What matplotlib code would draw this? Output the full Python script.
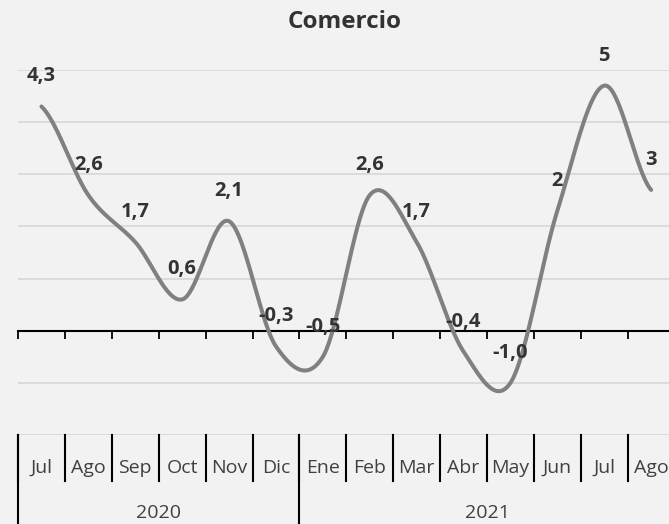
import numpy as np
import matplotlib
matplotlib.use("Agg")
import matplotlib.pyplot as plt

plt.rcParams['font.family'] = ['Open Sans', 'DejaVu Sans']

# datos
meses = ['Jul', 'Ago', 'Sep', 'Oct', 'Nov', 'Dic', 'Ene', 'Feb', 'Mar', 'Abr', 'May', 'Jun', 'Jul', 'Ago']
anios = ['2020', '2021']
meses_por_anio = [6, 8]
valores = [4.3, 2.6, 1.7, 0.6, 2.1, -0.3, -0.5, 2.6, 1.7, -0.4, -1.0, 2.3, 4.7, 2.7]
etiquetas = ['4,3', '2,6', '1,7', '0,6', '2,1', '-0,3', '-0,5', '2,6', '1,7', '-0,4', '-1,0', '2', '5', '3']

fondo = '#f2f2f2'
gris_linea = '#808080'
texto = '#333333'


def suavizar(y, n=40):
    # bezier tipo Excel (catmull-rom)
    y = np.asarray(y, dtype=float)
    p = np.concatenate([[y[0]], y, [y[-1]]])
    xs, ys = [], []
    t = np.linspace(0, 1, n)
    for i in range(len(y) - 1):
        p0, p3 = p[i + 1], p[i + 2]
        c1 = p0 + (p[i + 2] - p[i]) / 6
        c2 = p3 - (p[i + 3] - p[i + 1]) / 6
        b = (1 - t) ** 3 * p0 + 3 * (1 - t) ** 2 * t * c1 + 3 * (1 - t) * t ** 2 * c2 + t ** 3 * p3
        xs.append(i + t)
        ys.append(b)
    return np.concatenate(xs), np.concatenate(ys)


fig = plt.figure(figsize=(6.69, 5.24), dpi=100, facecolor=fondo)
ax = fig.add_axes([18 / 669, 89 / 524, 656.6 / 669, 365 / 524], facecolor=fondo)

x = np.arange(len(valores))
xs, ys = suavizar(valores)
ax.plot(xs, ys, color=gris_linea, lw=2.9, solid_capstyle='round', zorder=3)

for xi, v, lab in zip(x, valores, etiquetas):
    ax.annotate(lab, (xi, v), xytext=(0, 30), textcoords='offset pixels',
                ha='center', va='center', fontsize=14.5, fontweight='bold',
                color=texto, annotation_clip=False, zorder=4)

ax.set_xlim(-0.5, len(valores) - 0.5)
ax.set_ylim(-2, 5)
ax.set_yticks(range(-2, 6))
ax.yaxis.grid(True, color='#d9d9d9', lw=1.3)
ax.set_axisbelow(True)
ax.tick_params(axis='y', left=False, labelleft=False)

for s in ['left', 'right', 'top']:
    ax.spines[s].set_visible(False)
ax.spines['bottom'].set_position(('data', 0))
ax.spines['bottom'].set_color('black')
ax.spines['bottom'].set_linewidth(1.5)
ax.set_xticks(np.arange(-0.5, len(valores), 1.0))
ax.tick_params(axis='x', direction='out', length=5.5, width=1.3, color='black', labelbottom=False)

# ejes de categorias de dos niveles
h = 365
tr = ax.get_xaxis_transform()
for xi, m in zip(x, meses):
    ax.text(xi, -33 / h, m, transform=tr, ha='center', va='center', fontsize=14, color='#404040')
for b in np.arange(-0.5, len(valores), 1.0):
    ax.plot([b, b], [0, -46 / h], transform=tr, color='black', lw=1.5, clip_on=False)
inicio = -0.5
for anio, n in zip(anios, meses_por_anio):
    ax.plot([inicio, inicio], [0, -95 / h], transform=tr, color='black', lw=1.5, clip_on=False)
    ax.text(inicio + n / 2, -78 / h, anio, transform=tr, ha='center', va='center', fontsize=14, color='#404040')
    inicio += n

fig.text(345 / 669, 1 - 22 / 524, 'Comercio', ha='center', va='center', fontsize=17.5, fontweight='bold', color=texto)

fig.savefig('out.png', dpi=100, facecolor=fondo)
